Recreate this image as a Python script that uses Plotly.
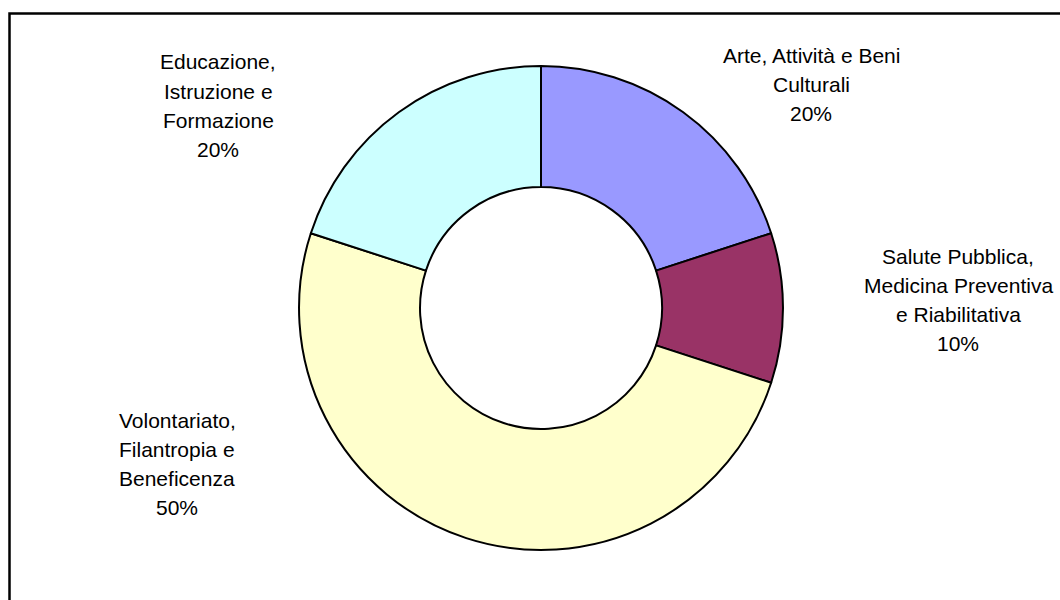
import plotly.graph_objects as go

categories = ["Arte, Attività e Beni Culturali",
              "Salute Pubblica, Medicina Preventiva e Riabilitativa",
              "Volontariato, Filantropia e Beneficenza",
              "Educazione, Istruzione e Formazione"]
values = [20, 10, 50, 20]
colors = ["#9999FF", "#993366", "#FFFFCC", "#CCFFFF"]

label_lines = [
    ["Arte, Attività e Beni", "Culturali"],
    ["Salute Pubblica,", "Medicina Preventiva", "e Riabilitativa"],
    ["Volontariato,", "Filantropia e", "Beneficenza"],
    ["Educazione,", "Istruzione e", "Formazione"],
]
# label block anchor: centre x (px), first line y (px)
label_pos = [(811, 55), (958, 256), (177, 420), (218, 62)]
line_step = 29.3

W, H = 1060, 600
cx, cy, R = 541, 308, 242

fig = go.Figure(go.Pie(
    labels=categories,
    values=values,
    marker=dict(colors=colors, line=dict(color="#000000", width=2)),
    hole=0.5,
    sort=False,
    direction="clockwise",
    rotation=0,
    textinfo="none",
    hoverinfo="label+percent",
    showlegend=False,
    domain=dict(x=[(cx - R) / W, (cx + R) / W],
                y=[(H - cy - R) / H, (H - cy + R) / H]),
))

total = sum(values)
annotations = []
for lines, v, (x, y0) in zip(label_lines, values, label_pos):
    all_lines = lines + [f"{round(100 * v / total)}%"]
    for i, t in enumerate(all_lines):
        yy = y0 + i * line_step
        annotations.append(dict(
            text=t, x=x / W, y=1 - yy / H, xref="paper", yref="paper",
            xanchor="center", yanchor="middle", showarrow=False,
            font=dict(family="Liberation Sans, Arial, sans-serif", size=21, color="#000000"),
        ))

fig.update_layout(
    width=W, height=H,
    margin=dict(l=0, r=0, t=0, b=0),
    paper_bgcolor="#FFFFFF",
    plot_bgcolor="#FFFFFF",
    annotations=annotations,
    shapes=[dict(type="rect", xref="paper", yref="paper",
                 x0=9.5 / W, x1=1.05, y0=-0.05, y1=1 - 13.5 / H,
                 line=dict(color="#000000", width=2.5), fillcolor="rgba(0,0,0,0)")],
)

fig.write_html("out.html")
